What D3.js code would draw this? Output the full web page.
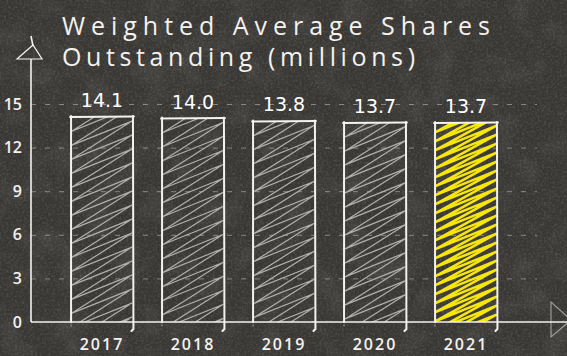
<!DOCTYPE html>
<html>
<head>
<meta charset="utf-8">
<script src="https://cdn.jsdelivr.net/npm/d3@7"></script>
<style>
  html, body { margin: 0; padding: 0; background: #3b3936; }
  svg { display: block; }
</style>
</head>
<body>
<svg id="chart" width="567" height="356"></svg>
<script>
// Chart data
const years = ["2017", "2018", "2019", "2020", "2021"];
const shares = [14.1, 14.0, 13.8, 13.7, 13.7];
const yTicks = [0, 3, 6, 9, 12, 15];
const highlightYear = "2021";
const titleLines = ["Weighted Average Shares", "Outstanding (millions)"];

const W = 567, H = 356;
const svg = d3.select("#chart");
const defs = svg.append("defs");

// Chalkboard texture
const f = defs.append("filter").attr("id", "grain")
  .attr("x", 0).attr("y", 0).attr("width", "100%").attr("height", "100%");
f.append("feTurbulence").attr("type", "fractalNoise")
  .attr("baseFrequency", 0.45).attr("numOctaves", 3).attr("seed", 4).attr("result", "n");
f.append("feColorMatrix").attr("type", "matrix")
  .attr("values", "0 0 0 0 1  0 0 0 0 0.98  0 0 0 0 0.94  1.3 0 0 0 -0.55");

const f2 = defs.append("filter").attr("id", "blotch")
  .attr("x", 0).attr("y", 0).attr("width", "100%").attr("height", "100%");
f2.append("feTurbulence").attr("type", "fractalNoise")
  .attr("baseFrequency", 0.035).attr("numOctaves", 3).attr("seed", 9);
f2.append("feColorMatrix").attr("type", "matrix")
  .attr("values", "0 0 0 0 1  0 0 0 0 1  0 0 0 0 1  0.9 0 0 0 -0.4");

svg.append("rect").attr("width", W).attr("height", H).attr("fill", "#393734");
svg.append("rect").attr("width", W).attr("height", H).attr("filter", "url(#blotch)").attr("opacity", 0.18);
svg.append("rect").attr("width", W).attr("height", H).attr("filter", "url(#grain)").attr("opacity", 0.2);

// Scales
const x0 = 31, baseY = 322;
const x = d3.scaleBand().domain(years).range([56.5, 511.5]).paddingInner(0.32).paddingOuter(0.16);
const y = d3.scaleLinear().domain([0, 15]).range([baseY, 104]);

const hand = "'Open Sans', 'Noto Sans', sans-serif";
const chalk = "#f4f2ee";

// Dashed grid lines
const grid = svg.append("g").attr("transform", `translate(${x0},0)`)
  .call(d3.axisLeft(y).tickValues(yTicks.filter(d => d > 0)).tickSize(-(537 - x0)).tickFormat(""));
grid.select(".domain").remove();
grid.selectAll("line").attr("stroke", "rgba(210,210,210,0.5)")
  .attr("stroke-width", 1).attr("stroke-dasharray", "5,9");

// Y tick labels
const yAx = svg.append("g").attr("transform", `translate(${x0},0)`)
  .call(d3.axisLeft(y).tickValues(yTicks).tickSize(0).tickPadding(9));
yAx.select(".domain").remove();
yAx.selectAll("text").attr("fill", chalk).attr("font-family", hand)
  .attr("font-size", 16).attr("font-weight", 600);

// Bars with zigzag hatching
const bars = svg.append("g");
years.forEach((yr, i) => {
  const bx = x(yr), bw = x.bandwidth();
  const top = y(shares[i]);
  const hi = yr === highlightYear;
  const id = "clip" + i;
  defs.append("clipPath").attr("id", id)
    .append("rect").attr("x", bx).attr("y", top).attr("width", bw).attr("height", baseY - top);

  const gap = hi ? 9 : 14;
  const rise = 24;
  const pts = [];
  for (let yy = top; yy <= baseY + rise + gap; yy += gap) {
    pts.push([bx + 1, yy]);
    pts.push([bx + bw - 1, yy - rise]);
  }
  bars.append("path")
    .attr("clip-path", `url(#${id})`)
    .attr("d", d3.line()(pts))
    .attr("fill", "none")
    .attr("stroke", hi ? "#f6e60c" : "#b0b0b0")
    .attr("stroke-width", hi ? 2.6 : 1.2)
    .attr("stroke-linejoin", "round");

  // outline
  const o = bars.append("g").attr("stroke", chalk).attr("fill", "none")
    .attr("stroke-width", 2).attr("stroke-linecap", "round");
  o.append("line").attr("x1", bx - 1).attr("x2", bx + bw + 1).attr("y1", top).attr("y2", top - 0.5);
  o.append("line").attr("x1", bx).attr("x2", bx).attr("y1", top - 1).attr("y2", baseY);
  o.append("path").attr("d", `M${bx + bw},${top - 1}L${bx + bw + 0.5},${baseY + 7}L${bx + bw - 1.5},${baseY + 9}`);
  o.append("line").attr("x1", bx).attr("x2", bx).attr("y1", baseY).attr("y2", baseY + 6)
    .attr("stroke-width", 1).attr("stroke-dasharray", "1,2").attr("opacity", 0.6);

  // value label
  bars.append("text")
    .attr("x", bx + bw / 2).attr("y", top - 10)
    .attr("text-anchor", "middle")
    .attr("fill", "#ffffff")
    .attr("font-family", "'DejaVu Sans', sans-serif")
    .attr("font-size", 19)
    .text(shares[i].toFixed(1));
});

// X axis
const xAx = svg.append("g").attr("transform", `translate(0,${baseY})`)
  .call(d3.axisBottom(x).tickSize(0).tickPadding(17));
xAx.select(".domain").remove();
xAx.selectAll("text").attr("fill", chalk).attr("font-family", hand)
  .attr("font-size", 16).attr("font-weight", 600).attr("letter-spacing", 2);

const axes = svg.append("g").attr("stroke", chalk).attr("fill", "none").attr("stroke-width", 1.6);
axes.append("line").attr("x1", x0).attr("x2", W).attr("y1", baseY).attr("y2", baseY);
axes.append("line").attr("x1", x0).attr("x2", x0).attr("y1", baseY).attr("y2", 59);
axes.append("line").attr("x1", x0).attr("x2", 33).attr("y1", 36).attr("y2", 46);
// arrow heads
axes.append("path").attr("d", "M17,59L33,45L42,59Z").attr("stroke-width", 1.2);
axes.append("path").attr("d", "M551,302L551,337L571,320Z").attr("stroke", "rgba(230,230,230,0.55)").attr("stroke-width", 1.2);

// Title
svg.append("g").selectAll("text").data(titleLines).join("text")
  .attr("x", 62).attr("y", (d, i) => 35 + i * 31)
  .attr("fill", chalk)
  .attr("font-family", hand)
  .attr("font-size", 25)
  .attr("font-weight", 500)
  .attr("textLength", (d, i) => i === 0 ? 428 : 353)
  .attr("lengthAdjust", "spacing")
  .text(d => d);
</script>
</body>
</html>
